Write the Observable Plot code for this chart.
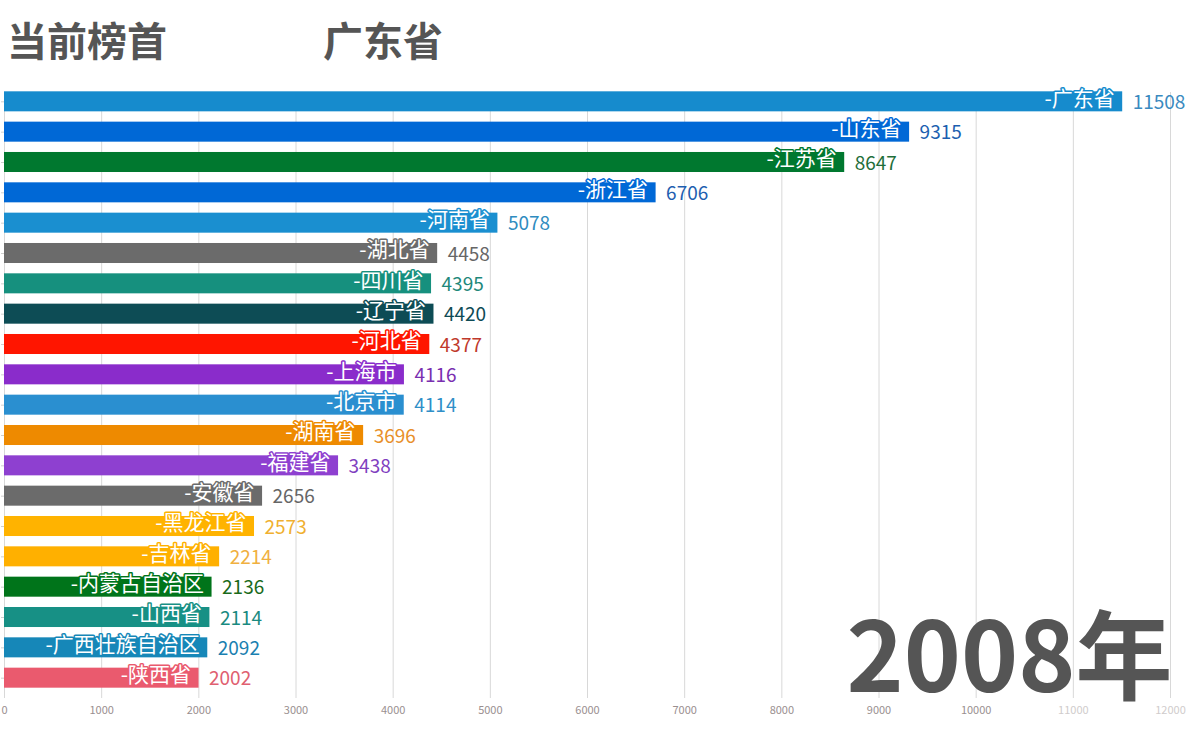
<!DOCTYPE html>
<html>
<head>
<meta charset="utf-8">
<script src="https://cdn.jsdelivr.net/npm/d3@7"></script>
<script src="https://cdn.jsdelivr.net/npm/@observablehq/plot@0.6"></script>
<style>
  html, body { margin: 0; padding: 0; background: #fff; }
  body { width: 1204px; height: 753px; overflow: hidden; font-family: "Noto Sans CJK SC", "Noto Sans", sans-serif; }
  #title { position: relative; height: 80px; color: #555; font-weight: bold; font-size: 40px; line-height: 78px; }
  #title span { position: absolute; top: 0; }
</style>
</head>
<body>
<div id="title"><span style="left:7px">当前榜首</span><span style="left:323px">广东省</span></div>
<div id="chart"></div>
<script>
const provinces = ["广东省","山东省","江苏省","浙江省","河南省","湖北省","四川省","辽宁省","河北省","上海市","北京市","湖南省","福建省","安徽省","黑龙江省","吉林省","内蒙古自治区","山西省","广西壮族自治区","陕西省"];
const values = [11508,9315,8647,6706,5078,4458,4395,4420,4377,4116,4114,3696,3438,2656,2573,2214,2136,2114,2092,2002];
const colors = ["#168bcd","#0068d6","#00782f","#0068d6","#1a8fd0","#6b6b6b","#16907e","#0d4c55","#ff1500","#8a2ccb","#2a8fd0","#ee8a00","#8e40d0","#6b6b6b","#ffb300","#ffb000","#00741a","#179085","#1687b8","#ea5a6e"];
const valueColors = ["#3a8ac0","#1c5fb0","#1f6e3a","#1f5fb0","#2f8cc0","#666666","#1e887a","#0e4b55","#c0392b","#7a2fb0","#2f8fc8","#e8902a","#7f40c0","#666666","#f0b030","#f0b040","#1a6a1a","#1a8a80","#1a80b0","#e06070"];
const year = "2008年";
const xTicks = [0,1000,2000,3000,4000,5000,6000,7000,8000,9000,10000,11000,12000];

const data = provinces.map((p, i) => ({name: p, value: values[i], color: colors[i], vcolor: valueColors[i]}));

const chart = Plot.plot({
  width: 1204,
  height: 673,
  marginTop: 1,
  marginBottom: 55,
  marginLeft: 4,
  marginRight: 34,
  style: {fontFamily: "'Noto Sans CJK SC', 'Noto Sans', sans-serif", background: "#fff"},
  x: {domain: [0, 12000], axis: null, label: null},
  y: {domain: provinces, padding: 0.34, round: false, axis: null, label: null},
  marks: [
    Plot.ruleX(xTicks, {stroke: "#d8d8d8", strokeWidth: 1, insetTop: 11}),
    Plot.axisY({tickSize: 3, tickFormat: () => "", stroke: "#cfcfcf", tickPadding: 0, label: null}),
    Plot.axisX({ticks: xTicks, tickSize: 0, tickPadding: 8, fontSize: 11, label: null,
      fill: (d) => d >= 11000 ? "#d0cccc" : "#9a8f8f", tickFormat: (d) => String(d)}),
    Plot.barX(data, {x: "value", y: "name", fill: "color"}),
    Plot.text(data, {x: "value", y: "name", text: (d) => "-" + d.name, textAnchor: "end", dx: -8, dy: -3,
      fill: "white", stroke: "color", strokeWidth: 3, paintOrder: "stroke", fontSize: 21}),
    Plot.text(data, {x: "value", y: "name", text: (d) => String(d.value), textAnchor: "start", dx: 10, dy: 1,
      fill: "vcolor", fontSize: 19}),
    Plot.text([year], {frameAnchor: "bottom-right", textAnchor: "end", lineAnchor: "bottom", dx: 2, dy: -7,
      fontSize: 97, fontWeight: "bold", fill: "#555"})
  ]
});
document.getElementById("chart").appendChild(chart);
</script>
</body>
</html>
